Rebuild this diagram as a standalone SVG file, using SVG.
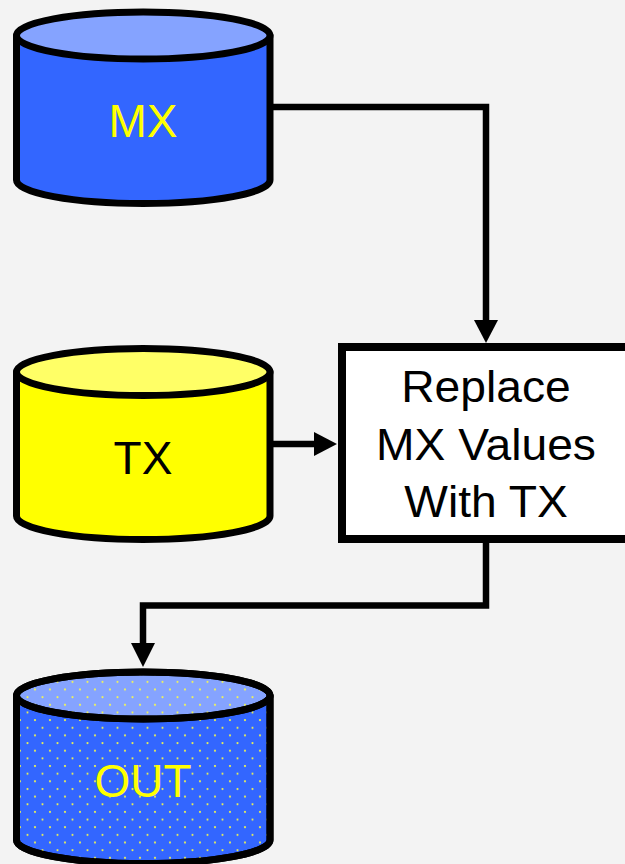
<svg xmlns="http://www.w3.org/2000/svg" width="625" height="864" viewBox="0 0 625 864">
<defs>
<style>
.cyl{stroke:#000;stroke-width:7;stroke-linejoin:round}
.conn{fill:none;stroke:#000;stroke-width:6.5;stroke-linejoin:miter}
.lbl{font-family:"Liberation Sans",Arial,sans-serif;font-size:46px;text-anchor:middle}
.box{font-family:"Liberation Sans",Arial,sans-serif;font-size:44px;text-anchor:middle;fill:#000}
</style>
<pattern id="dots" x="0" y="0" width="15" height="15.3" patternUnits="userSpaceOnUse">
<circle cx="5" cy="1" r="1.1" fill="#ffff40" fill-opacity="0.9"/>
<circle cx="12.5" cy="8.65" r="1.1" fill="#ffff40" fill-opacity="0.9"/>
</pattern>
</defs>
<rect width="625" height="864" fill="#f3f3f3"/>

<g id="connectors">
<path class="conn" d="M272 107 H486 V322"/>
<polygon points="474,320 498,320 486,343"/>
<path class="conn" d="M272 444 H316"/>
<polygon points="314,432 314,456 337,444"/>
<path class="conn" d="M486 543 V605.5 H143 V645"/>
<polygon points="131,643 155,643 143,667"/>
</g>

<g id="mx">
<path class="cyl" fill="#3366ff" d="M16.5 35.5 V180 A126.75 23.5 0 0 0 270 180 V35.5 Z"/>
<ellipse class="cyl" fill="#85a3ff" cx="143.25" cy="35.5" rx="126.75" ry="23.5"/>
<text class="lbl" x="143" y="137" fill="#ffff00">MX</text>
</g>

<g id="tx">
<path class="cyl" fill="#ffff00" d="M16.5 372 V516 A126.75 23.5 0 0 0 270 516 V372 Z"/>
<ellipse class="cyl" fill="#ffff66" cx="143.25" cy="372" rx="126.75" ry="23.5"/>
<text class="lbl" x="143" y="474" fill="#000">TX</text>
</g>

<g id="process">
<rect x="342" y="347" width="290" height="192" fill="#ffffff" stroke="#000" stroke-width="8"/>
<g transform="translate(486 0) scale(1.05 1)">
<text class="box" x="0" y="402">Replace</text>
<text class="box" x="0" y="460">MX Values</text>
<text class="box" x="0" y="517">With TX</text>
</g>
</g>

<g id="out">
<path class="cyl" fill="#3366ff" d="M16.5 695.5 V840 A126.75 23.5 0 0 0 270 840 V695.5 Z"/>
<path fill="url(#dots)" d="M16.5 695.5 V840 A126.75 23.5 0 0 0 270 840 V695.5 Z"/>
<ellipse class="cyl" fill="#85a3ff" cx="143.25" cy="695.5" rx="126.75" ry="23.5"/>
<ellipse fill="url(#dots)" cx="143.25" cy="695.5" rx="126.75" ry="23.5"/>
<ellipse fill="none" stroke="#000" stroke-width="7" cx="143.25" cy="695.5" rx="126.75" ry="23.5"/>
<path fill="none" stroke="#000" stroke-width="7" d="M16.5 695.5 V840 A126.75 23.5 0 0 0 270 840 V695.5"/>
<text class="lbl" x="143" y="797" fill="#ffff00">OUT</text>
</g>
</svg>
